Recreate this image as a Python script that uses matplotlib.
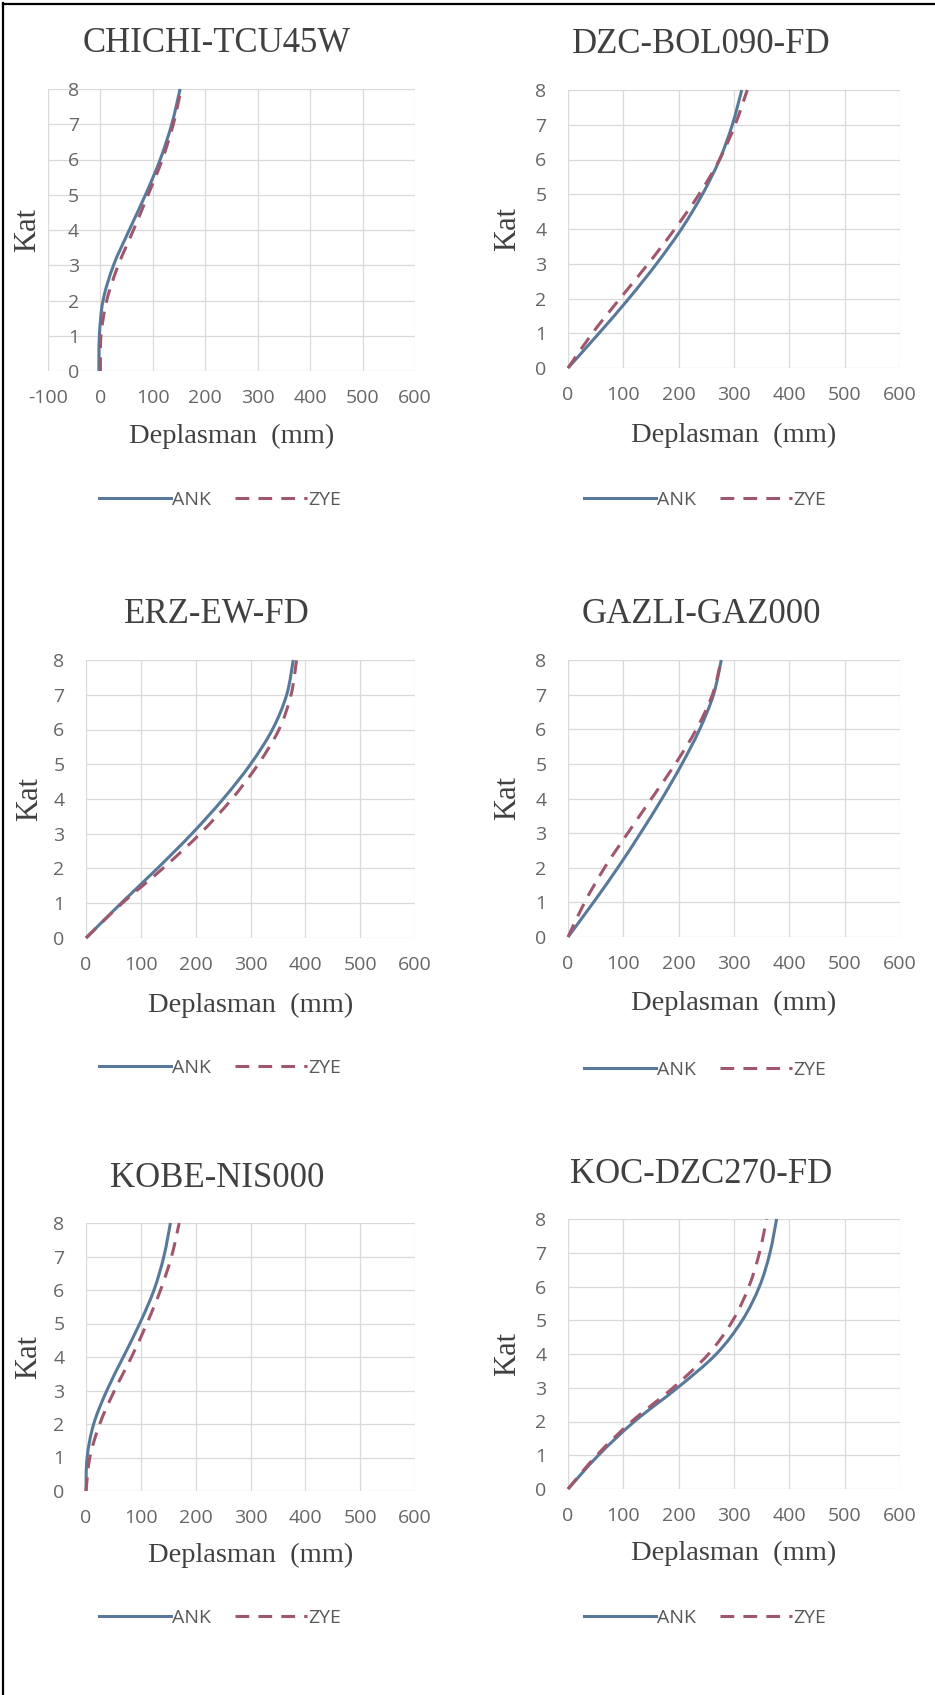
import numpy as np
import matplotlib
matplotlib.use("Agg")
import matplotlib.pyplot as plt
from matplotlib.path import Path
from matplotlib.patches import PathPatch
from matplotlib.lines import Line2D

# ---------------------------------------------------------------------------
# Data: storey displacements (mm) for each ground motion record
# ---------------------------------------------------------------------------
floors = [0, 1, 2, 3, 4, 5, 6, 7, 8]

records = ["CHICHI-TCU45W", "DZC-BOL090-FD", "ERZ-EW-FD",
           "GAZLI-GAZ000", "KOBE-NIS000", "KOC-DZC270-FD"]

chichi_ank = [-3, -2, 5, 25, 55, 86, 114, 136, 152]
chichi_zye = [0, 1, 12, 34, 63, 91, 118, 139, 154]

dzc_ank = [0, 56, 110, 160, 205, 243, 274, 297, 314]
dzc_zye = [0, 44, 94, 145, 193, 237, 274, 302, 324]

erz_ank = [0, 64, 130, 193, 250, 300, 340, 366, 378]
erz_zye = [0, 66, 140, 208, 266, 314, 352, 374, 384]

gazli_ank = [0, 46, 90, 131, 170, 206, 238, 263, 277]
gazli_zye = [0, 30, 66, 108, 151, 194, 232, 261, 277]

kobe_ank = [0, 2, 14, 38, 68, 98, 124, 142, 154]
kobe_zye = [0, 7, 25, 52, 83, 111, 136, 156, 170]

koc_ank = [0, 55, 120, 198, 268, 315, 346, 365, 377]
koc_zye = [0, 52, 115, 190, 254, 298, 327, 346, 359]

ank_series = [chichi_ank, dzc_ank, erz_ank, gazli_ank, kobe_ank, koc_ank]
zye_series = [chichi_zye, dzc_zye, erz_zye, gazli_zye, kobe_zye, koc_zye]
x_min = [-100, 0, 0, 0, 0, 0]
x_max = 600

series_labels = ["ANK", "ZYE"]

# ---------------------------------------------------------------------------
# Styling / layout (pixel positions on a 935 x 1695 canvas)
# ---------------------------------------------------------------------------
W, H = 935, 1695
ANK_COLOR = "#58799a"
ZYE_COLOR = "#a0566c"
GRID_COLOR = "#d9d9d9"
TEXT_DARK = "#404040"
TICK_COLOR = "#666666"
SERIF = ["Liberation Serif", "DejaVu Serif"]
LW = 2.2
DASH = (4.5, 3)

plt.rcParams["font.family"] = ["Open Sans", "DejaVu Sans"]
plt.rcParams["axes.unicode_minus"] = False

# box: (left, top, right, bottom); title: (centre x, baseline y);
# xlabel baseline y; ylabel centre x; legend centre (x, y)
panels = [
    dict(box=(48, 89, 415, 371), title=(217, 52), xlab=443, ylab=28, leg=(220, 500)),
    dict(box=(568, 90, 900, 368), title=(701, 53), xlab=442, ylab=508, leg=(705, 500)),
    dict(box=(86, 660, 415, 938), title=(217, 623), xlab=1012, ylab=30, leg=(220, 1068)),
    dict(box=(568, 660, 900, 937), title=(701, 623), xlab=1010, ylab=508, leg=(705, 1070)),
    dict(box=(86, 1223, 415, 1491), title=(217, 1187), xlab=1562, ylab=29, leg=(220, 1618)),
    dict(box=(568, 1219, 900, 1489), title=(701, 1183), xlab=1560, ylab=508, leg=(705, 1618)),
]


def fx(px):
    return px / W


def fy(py):
    return 1 - py / H


def smooth_path(xs, ys):
    """Cubic Bezier path through the points (smoothed line as in spreadsheet charts)."""
    pts = np.column_stack([xs, ys]).astype(float)
    n = len(pts)
    verts = [pts[0]]
    codes = [Path.MOVETO]
    for i in range(n - 1):
        p0 = pts[i - 1] if i > 0 else pts[i]
        p1 = pts[i]
        p2 = pts[i + 1]
        p3 = pts[i + 2] if i + 2 < n else pts[i + 1]
        c1 = p1 + (p2 - p0) / 6.0
        c2 = p2 - (p3 - p1) / 6.0
        verts += [c1, c2, p2]
        codes += [Path.CURVE4] * 3
    return Path(verts, codes)


fig = plt.figure(figsize=(W / 100, H / 100), dpi=100)
fig.patch.set_facecolor("white")

for name, ank, zye, xmin, lay in zip(records, ank_series, zye_series, x_min, panels):
    l, t, r, b = lay["box"]
    ax = fig.add_axes([fx(l), fy(b), (r - l) / W, (b - t) / H])
    ax.set_xlim(xmin, x_max)
    ax.set_ylim(floors[0], floors[-1])
    ax.set_xticks(np.arange(xmin, x_max + 1, 100))
    ax.set_yticks(floors)
    ax.grid(True, color=GRID_COLOR, lw=0.9)
    ax.set_axisbelow(True)
    for s in ax.spines.values():
        s.set_visible(False)
    # vertical axis crosses at zero displacement
    ax.spines["left"].set_position(("data", 0))
    ax.tick_params(axis="both", length=0, labelsize=14, labelcolor=TICK_COLOR)
    ax.tick_params(axis="x", pad=13)
    ax.tick_params(axis="y", pad=15.5)

    ax.add_patch(PathPatch(smooth_path(ank, floors), fill=False, edgecolor=ANK_COLOR,
                           lw=LW, joinstyle="round", capstyle="butt", clip_on=False,
                           zorder=3))
    ax.add_patch(PathPatch(smooth_path(zye, floors), fill=False, edgecolor=ZYE_COLOR,
                           lw=LW, linestyle=(0, DASH), joinstyle="round",
                           capstyle="butt", clip_on=False, zorder=4))

    ax.set_xlabel("Deplasman  (mm)", fontsize=20.5, family=SERIF, color=TEXT_DARK)
    ax.xaxis.set_label_coords(0.5, (b - lay["xlab"]) / (b - t))
    ax.xaxis.label.set_va("baseline")

    ax.set_ylabel("Kat", fontsize=22, family=SERIF, color=TEXT_DARK)
    ax.yaxis.set_label_coords((lay["ylab"] - l) / (r - l), 0.5)
    ax.yaxis.label.set_va("center")

    tx, ty = lay["title"]
    fig.text(fx(tx), fy(ty), name, ha="center", va="baseline", fontsize=25,
             family=SERIF, color=TEXT_DARK)

    handles = [Line2D([], [], color=ANK_COLOR, lw=LW),
               Line2D([], [], color=ZYE_COLOR, lw=LW, dashes=DASH)]
    lx, ly = lay["leg"]
    ax.legend(handles, series_labels, loc="center", bbox_to_anchor=(fx(lx), fy(ly)),
              bbox_transform=fig.transFigure, ncol=2, frameon=False, fontsize=14,
              handlelength=3.7, handletextpad=0.1, columnspacing=1.2,
              labelcolor="#595959")

# outer frame (left and top edges)
fig.add_artist(Line2D([fx(3), fx(3)], [0, fy(3)], color="black", lw=1.6))
fig.add_artist(Line2D([fx(3), 1], [fy(3.5), fy(3.5)], color="black", lw=1.6))

fig.savefig("out.png", dpi=100, facecolor="white")
